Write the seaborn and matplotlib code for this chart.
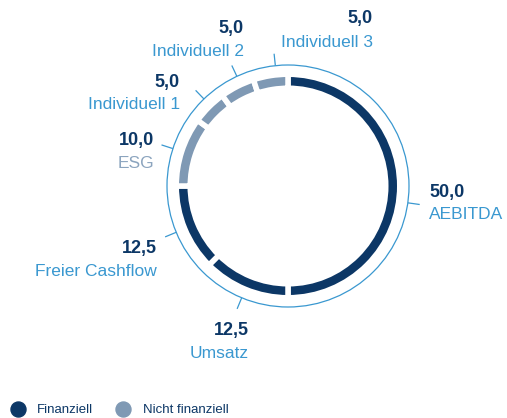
import matplotlib
matplotlib.use("Agg")
import matplotlib.pyplot as plt
from matplotlib.lines import Line2D
from matplotlib.patches import Circle
import numpy as np
import seaborn as sns

# Weighting of the bonus targets (in %), clockwise from 12 o'clock
targets = ["AEBITDA", "Umsatz", "Freier Cashflow", "ESG",
           "Individuell 1", "Individuell 2", "Individuell 3"]
weights = [50.0, 12.5, 12.5, 10.0, 5.0, 5.0, 5.0]
kind = ["Finanziell", "Finanziell", "Finanziell", "Nicht finanziell",
        "Nicht finanziell", "Nicht finanziell", "Nicht finanziell"]
legend_labels = ["Finanziell", "Nicht finanziell"]

sns.set_theme(style="white")
plt.rcParams["font.family"] = ["Liberation Sans", "DejaVu Sans"]

NAVY = "#0c3766"
GREYBLUE = "#7f99b4"
SKY = "#3a98d0"
palette = dict(zip(legend_labels, [NAVY, GREYBLUE]))
name_colors = [SKY, SKY, SKY, "#8ba4be", SKY, SKY, SKY]

W, H = 507, 418
fig = plt.figure(figsize=(W / 100, H / 100), dpi=100)
ax = fig.add_axes([0, 0, 1, 1])


def px(x, y):
    """Pixel position measured from the top-left corner -> data coords."""
    return x, H - y


cx, cy = px(288, 186)
gap = 5.5                      # white gap between segments, px
r_out, thick = 109.0, 8.5      # coloured ring
r_frame = 121.0                # thin outer ring
lw_gap = gap * 72 / 100

ax.pie(weights, radius=r_out + gap / 2, center=(cx, cy), startangle=90,
       counterclock=False, colors=[palette[k] for k in kind],
       wedgeprops=dict(width=thick + gap, edgecolor="white",
                       linewidth=lw_gap))

ax.add_patch(Circle((cx, cy), r_frame, fill=False, ec=SKY, lw=0.9, zorder=3))

# tick marks on the outer ring, at the middle of each segment
tick_shift = [8, 0, 0, 0, 1, 2, 3]
edges = np.concatenate([[0], np.cumsum(weights)]) / sum(weights) * 360
mids = (edges[:-1] + edges[1:]) / 2 + np.array(tick_shift)
for a in mids:
    t = np.deg2rad(a)
    xs = [cx + r_frame * np.sin(t), cx + (r_frame + 12) * np.sin(t)]
    ys = [cy + r_frame * np.cos(t), cy + (r_frame + 12) * np.cos(t)]
    ax.plot(xs, ys, color=SKY, lw=0.9, solid_capstyle="butt", zorder=3)

# label blocks: anchor x, value line centre y, name line centre y, alignment
label_layout = [
    (429, 191, 213, "left"),
    (249, 328, 352, "right"),
    (157, 247, 270, "right"),
    (154, 139, 162, "right"),
    (180, 81, 103, "right"),
    (244, 27, 50, "right"),
    (373, 17, 41, "right"),
]
for name, w, col, (lx, vy, ny, ha) in zip(targets, weights, name_colors,
                                         label_layout):
    value = f"{w:.1f}".replace(".", ",")
    ax.text(*px(lx, vy + 6.5), value, ha=ha, va="baseline", fontsize=13,
            fontweight="bold", color=NAVY)
    ax.text(*px(lx, ny + 6.2), name, ha=ha, va="baseline", fontsize=12.5,
            color=col)

handles = [Line2D([], [], ls="", marker="o", ms=10.8, color=palette[k],
                  mec=palette[k]) for k in legend_labels]
ax.legend(handles, legend_labels, loc="center left",
          bbox_to_anchor=(10.7 / W, 1 - 410 / H), ncol=2, frameon=False,
          fontsize=9.5, borderpad=0, borderaxespad=0, handlelength=1.1,
          handletextpad=0.9, columnspacing=1.74, labelcolor=NAVY)

ax.set_xlim(0, W)
ax.set_ylim(0, H)
ax.set_aspect("equal")
ax.axis("off")

fig.savefig("out.png", dpi=100, facecolor="white")
